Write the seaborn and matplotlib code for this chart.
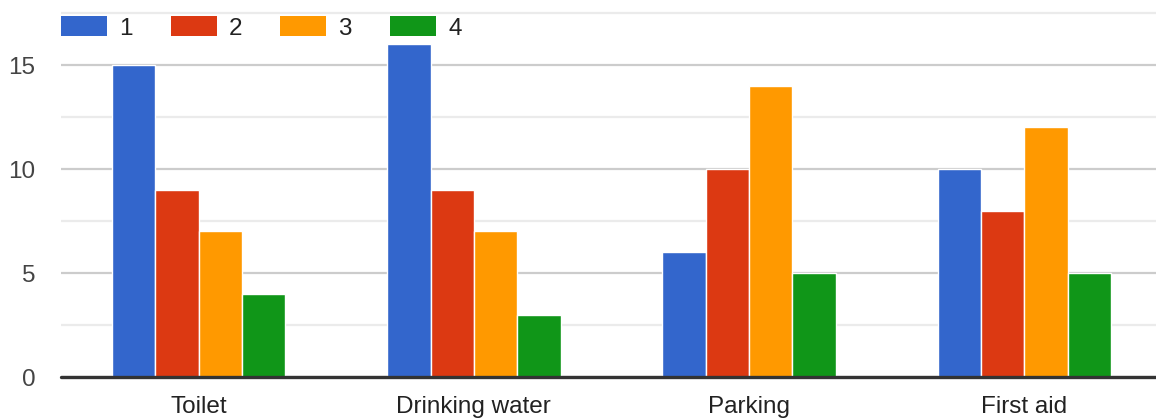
import matplotlib
matplotlib.use("Agg")
import matplotlib.pyplot as plt
import seaborn as sns
import pandas as pd
from matplotlib.patches import Patch

categories = ["Toilet", "Drinking water", "Parking", "First aid"]
series_names = ["1", "2", "3", "4"]
s1 = [15, 16, 6, 10]
s2 = [9, 9, 10, 8]
s3 = [7, 7, 14, 12]
s4 = [4, 3, 5, 5]
colors = ["#3366cc", "#dc3912", "#ff9900", "#109618"]

rows = []
for name, vals in zip(series_names, [s1, s2, s3, s4]):
    for c, v in zip(categories, vals):
        rows.append({"category": c, "series": name, "value": v})
df = pd.DataFrame(rows)

sns.set_theme(style="white")
plt.rcParams["font.family"] = ["Liberation Sans", "DejaVu Sans"]

W, H = 1156, 418
fig = plt.figure(figsize=(W / 100, H / 100), dpi=100)
ymax = 17.6
px_per = 364 / 17.5
top_px = 377 - ymax * px_per
ax = fig.add_axes([61 / W, 1 - 377 / H, 1101 / W, (377 - top_px) / H])

sns.barplot(data=df, x="category", y="value", hue="series", palette=colors,
            width=0.63, edgecolor="white", linewidth=1.0, ax=ax,
            legend=False, errorbar=None, saturation=1)

ax.set_ylim(0, ymax)
ax.set_xlim(-0.5, 3.5)
ax.set_yticks([0, 5, 10, 15])
ax.set_yticks([2.5, 7.5, 12.5, 17.5], minor=True)
ax.grid(True, which="major", axis="y", color="#cccccc", lw=1.6)
ax.grid(True, which="minor", axis="y", color="#ebebeb", lw=1.6)
ax.set_axisbelow(True)
ax.axhline(0, color="#333333", lw=2.4, zorder=5, clip_on=False)
for s in ax.spines.values():
    s.set_visible(False)
ax.tick_params(axis="y", which="both", length=0, pad=18.5, labelsize=17.5, labelcolor="#444444")
ax.tick_params(axis="x", length=0, pad=14, labelsize=17.5, labelcolor="#222222")
ax.set_xlabel("")
ax.set_ylabel("")

handles = [Patch(facecolor=c, edgecolor="none") for c in colors]
fig.legend(handles, series_names, loc="center left",
           bbox_to_anchor=(61 / W, 1 - 28 / H), ncol=4, frameon=False,
           fontsize=17.5, handlelength=1.89, handleheight=0.9,
           handletextpad=0.49, columnspacing=1.58, borderpad=0,
           borderaxespad=0, labelcolor="#222222")

fig.savefig("out.png", dpi=100)
